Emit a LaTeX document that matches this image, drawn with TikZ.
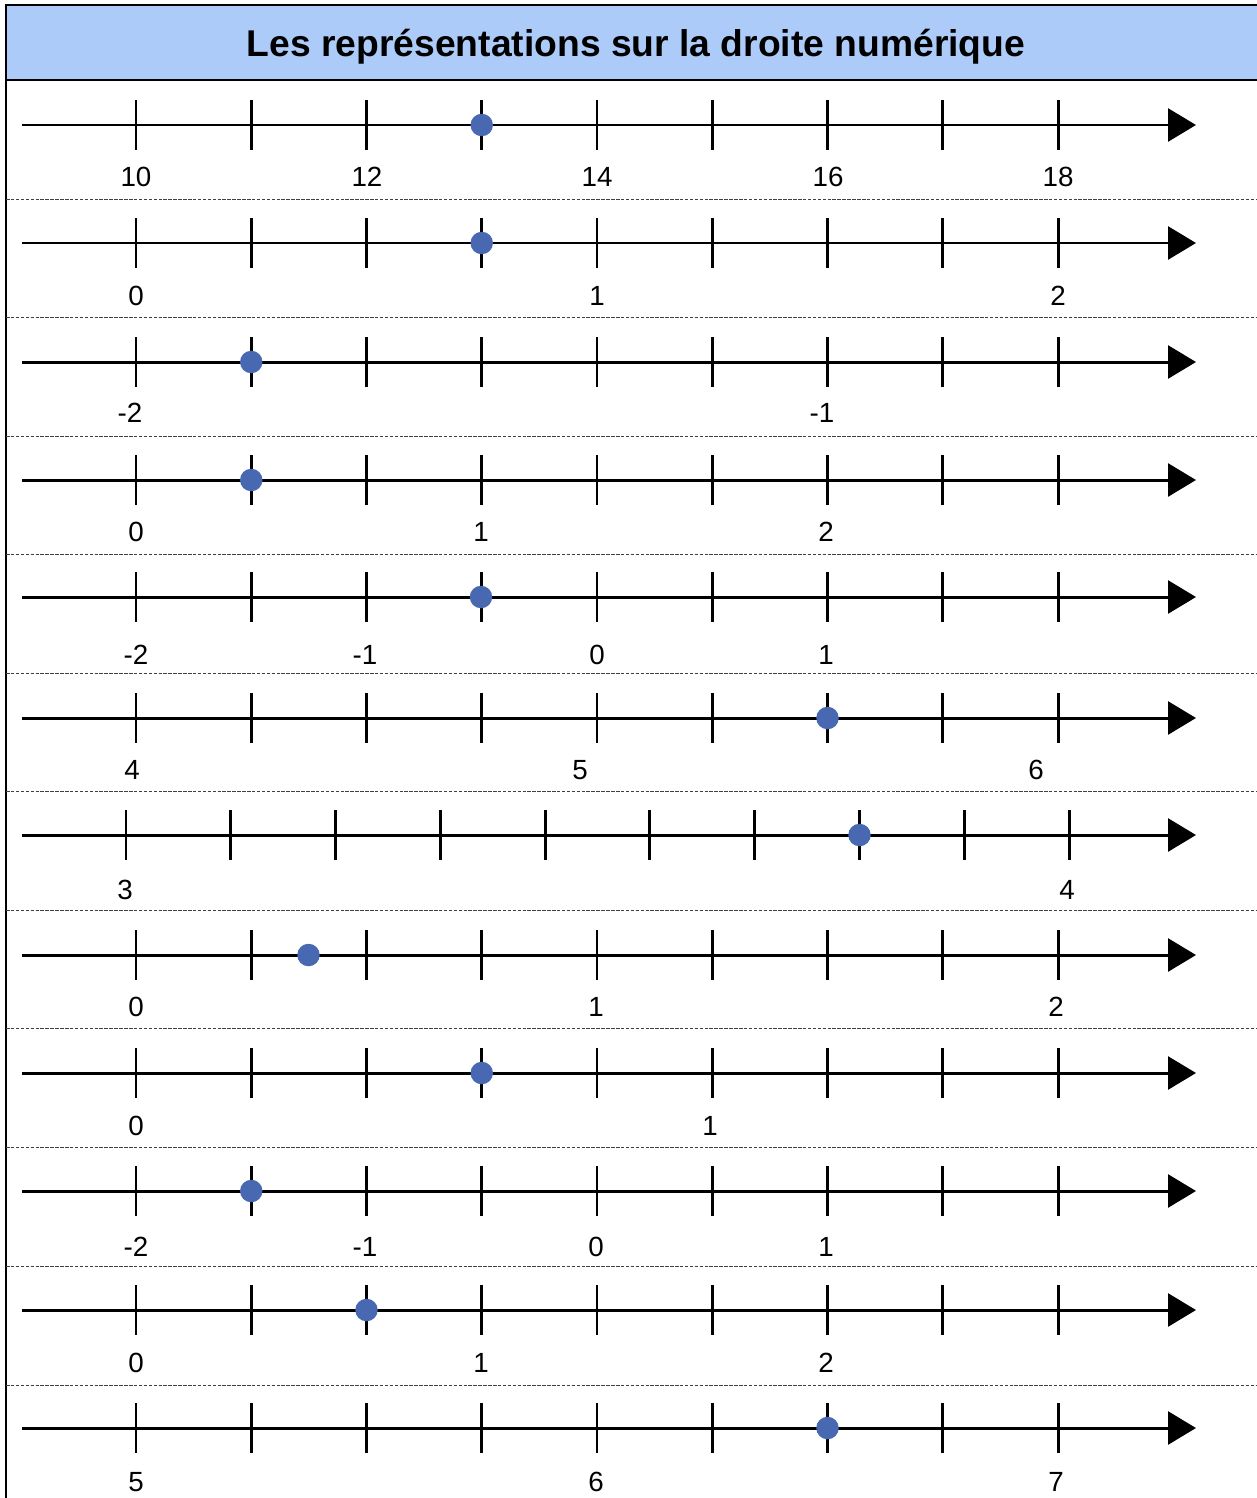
\documentclass[tikz,border=0pt]{standalone}
\usepackage{fontspec}
\setmainfont{Liberation Sans}
\usetikzlibrary{arrows.meta}
\definecolor{headblue}{RGB}{172,203,248}
\definecolor{dotblue}{RGB}{72,104,178}

\begin{document}
\begin{tikzpicture}[x=0.02cm,y=-0.02cm,
    axis/.style={line width=1.7pt,-{Triangle[length=15.9pt,width=18.7pt]}},
    tickmark/.style={line width=1.7pt},
    sepline/.style={line width=0.55pt,black!75,dash pattern=on 2pt off 0.8pt},
    frame/.style={line width=1.4pt},
    numlabel/.style={inner sep=0pt,font=\fontsize{15.8}{19}\selectfont},
    pointdot/.style={fill=dotblue}]
  \useasboundingbox (0,0) rectangle (1257,1498);
  % header band and frame
  \fill[headblue] (6,5) rectangle (1257,80);
  \draw[frame] (1257,5) -- (6,5) -- (6,1498);
  \draw[frame] (6,80) -- (1257,80);
  \node[inner sep=0pt,anchor=base,font=\fontsize{21.2}{25}\selectfont\bfseries] (title) at (636,56)
    {Les représentations sur la droite numérique};
  % separators between the lines
  \foreach \s in {199,317,436,554,673,791,910,1028,1147,1266,1385}
    \draw[sepline] (6,\s) -- (1257,\s);
  % number lines
  \foreach \y [count=\r] in {125,243,362,480,597,718,835,955,1073,1191,1310,1428} {
    \coordinate (L\r) at (22,\y);
    \coordinate (R\r) at (1196,\y);
    \draw[axis] (L\r) -- (R\r);
  }
  % ticks, 9 per line
  \foreach \y in {125,243,362,480,597,718,955,1073,1191,1310,1428}
    \foreach \k in {0,...,8}
      \draw[tickmark] (136+115.25*\k,\y-25) -- (136+115.25*\k,\y+25);
  % ticks of line 7, 10 of them
  \foreach \k in {0,...,9}
    \draw[tickmark] (126+104.78*\k,810) -- (126+104.78*\k,860);
  % points
  \fill[pointdot] (481.75,125) circle[radius=6.4pt];
  \fill[pointdot] (481.75,243) circle[radius=6.4pt];
  \fill[pointdot] (251.25,362) circle[radius=6.4pt];
  \fill[pointdot] (251.25,480) circle[radius=6.4pt];
  \fill[pointdot] (481,597) circle[radius=6.4pt];
  \fill[pointdot] (827.5,718) circle[radius=6.4pt];
  \fill[pointdot] (859.5,835) circle[radius=6.4pt];
  \fill[pointdot] (308.5,955) circle[radius=6.4pt];
  \fill[pointdot] (481.75,1073) circle[radius=6.4pt];
  \fill[pointdot] (251.25,1191) circle[radius=6.4pt];
  \fill[pointdot] (366.5,1310) circle[radius=6.4pt];
  \fill[pointdot] (827.5,1428) circle[radius=6.4pt];
  % labels
  \node[numlabel] (a10) at (136,177) {10};
  \node[numlabel] (a12) at (367,177) {12};
  \node[numlabel] (a14) at (597,177) {14};
  \node[numlabel] (a16) at (828,177) {16};
  \node[numlabel] (a18) at (1058,177) {18};
  \node[numlabel] (b0) at (136,296) {0};
  \node[numlabel] (b1) at (597,296) {1};
  \node[numlabel] (b2) at (1058,296) {2};
  \node[numlabel] (c2) at (130,413) {-2};
  \node[numlabel] (c1) at (822,413) {-1};
  \node[numlabel] (d0) at (136,532) {0};
  \node[numlabel] (d1) at (481,532) {1};
  \node[numlabel] (d2) at (826,532) {2};
  \node[numlabel] (e2) at (136,655) {-2};
  \node[numlabel] (e1) at (365,655) {-1};
  \node[numlabel] (e0) at (597,655) {0};
  \node[numlabel] (ep1) at (826,655) {1};
  \node[numlabel] (f4) at (132,770) {4};
  \node[numlabel] (f5) at (580,770) {5};
  \node[numlabel] (f6) at (1036,770) {6};
  \node[numlabel] (g3) at (125,890) {3};
  \node[numlabel] (g4) at (1067,890) {4};
  \node[numlabel] (h0) at (136,1007) {0};
  \node[numlabel] (h1) at (596,1007) {1};
  \node[numlabel] (h2) at (1056,1007) {2};
  \node[numlabel] (i0) at (136,1126) {0};
  \node[numlabel] (i1) at (710,1126) {1};
  \node[numlabel] (j2) at (136,1247) {-2};
  \node[numlabel] (j1) at (365,1247) {-1};
  \node[numlabel] (j0) at (596,1247) {0};
  \node[numlabel] (jp1) at (826,1247) {1};
  \node[numlabel] (k0) at (136,1363) {0};
  \node[numlabel] (k1) at (481,1363) {1};
  \node[numlabel] (k2) at (826,1363) {2};
  \node[numlabel] (m5) at (136,1482) {5};
  \node[numlabel] (m6) at (596,1482) {6};
  \node[numlabel] (m7) at (1056,1482) {7};
\end{tikzpicture}
\end{document}
